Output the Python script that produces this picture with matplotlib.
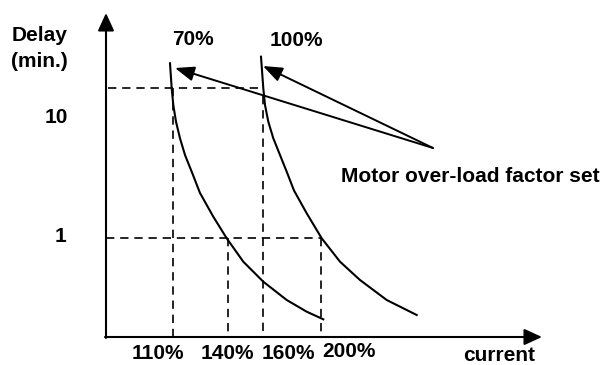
import matplotlib
matplotlib.use('Agg')
import matplotlib.pyplot as plt

# ---- Diagram data (drawing units, y grows downward) ----
# overload curves, points
curve_70_x = [170, 171.7, 173.3, 176, 180, 185, 191.7, 200, 213.3, 226.7,
              243.3, 263.3, 286.7, 306.7, 323.3]
curve_70_y = [63.3, 88.3, 105, 121.7, 138.3, 155, 171.7, 193, 216.7, 238.3,
              261.7, 281.7, 300, 311.7, 319.3]
curve_100_x = [261, 263.3, 265, 268.3, 273.3, 280, 286.7, 294, 306.7, 321.7,
               340, 360, 386.7, 416.7]
curve_100_y = [56.7, 88.3, 105, 121.7, 138.3, 155, 171.7, 190.5, 213.3, 238.3,
               261.7, 280, 300, 315]

# axes
origin = (106, 337)
x_axis_end = 542
y_axis_end = 13

# delay levels (10 min, 1 min) and the current marks
level_10min = 88
level_1min = 238
level_labels = ['10', '1']
level_label_pos = [(56.5, 123), (61, 242)]

current_marks = [173, 228, 263, 321]
current_labels = ['110%', '140%', '160%', '200%']
current_label_x = [158, 227, 288, 349]
current_label_base = [359, 359, 359, 357]

factor_labels = ['70%', '100%']
factor_label_pos = [(193, 45), (296.5, 46.5)]

callout_text = 'Motor over-load factor set'
callout_from = (433, 148)
callout_to = [(175, 68), (263, 66)]

# ---- Figure ----
plt.rcParams['font.family'] = ['Liberation Sans', 'DejaVu Sans']
fig = plt.figure(figsize=(6.05, 3.65), dpi=100)
ax = fig.add_axes([0, 0, 1, 1])
ax.set_xlim(0, 605)
ax.set_ylim(365, 0)
ax.axis('off')

fs = 15
txt = dict(fontsize=fs, fontweight='bold', color='black', va='baseline', ha='center')

# axes with arrow heads
axis_arrow = dict(arrowstyle='-|>,head_length=1.2,head_width=0.55', color='black',
                  lw=1.5, shrinkA=0, shrinkB=0, mutation_scale=9)
ax.annotate('', xy=(origin[0], y_axis_end), xytext=(origin[0], origin[1] + 1),
            arrowprops=axis_arrow)
ax.annotate('', xy=(x_axis_end, origin[1]), xytext=(origin[0] - 1, origin[1]),
            arrowprops=axis_arrow)

# dashed guides
dash = dict(color='black', lw=1.2, linestyle=(0, (5, 3.5)))
ax.plot([origin[0] + 2, 262], [level_10min, level_10min], **dash)
ax.plot([origin[0], current_marks[3]], [level_1min, level_1min], **dash)
ax.plot([current_marks[0]] * 2, [level_10min, origin[1]], **dash)
ax.plot([current_marks[1]] * 2, [level_1min, origin[1]], **dash)
ax.plot([current_marks[2]] * 2, [96, origin[1]], **dash)
ax.plot([current_marks[3]] * 2, [level_1min, origin[1]], **dash)

# curves
ax.plot(curve_70_x, curve_70_y, color='black', lw=1.5, solid_joinstyle='round')
ax.plot(curve_100_x, curve_100_y, color='black', lw=1.5, solid_joinstyle='round')

# callout arrows
call_arrow = dict(arrowstyle='-|>,head_length=1.3,head_width=0.5', color='black',
                  lw=1.4, shrinkA=0, shrinkB=0, mutation_scale=9)
for tip in callout_to:
    ax.annotate('', xy=tip, xytext=callout_from, arrowprops=call_arrow)

# text
ax.text(40, 41, 'Delay', **txt)
ax.text(39, 67, '(min.)', **txt)
for lab, (x, y) in zip(level_labels, level_label_pos):
    ax.text(x, y, lab, **txt)
for lab, (x, y) in zip(factor_labels, factor_label_pos):
    ax.text(x, y, lab, **txt)
for lab, x, y in zip(current_labels, current_label_x, current_label_base):
    ax.text(x, y, lab, **txt)
ax.text(499, 361, 'current', **txt)
ax.text(470, 182, callout_text, **txt)

plt.savefig('out.png', dpi=100)
